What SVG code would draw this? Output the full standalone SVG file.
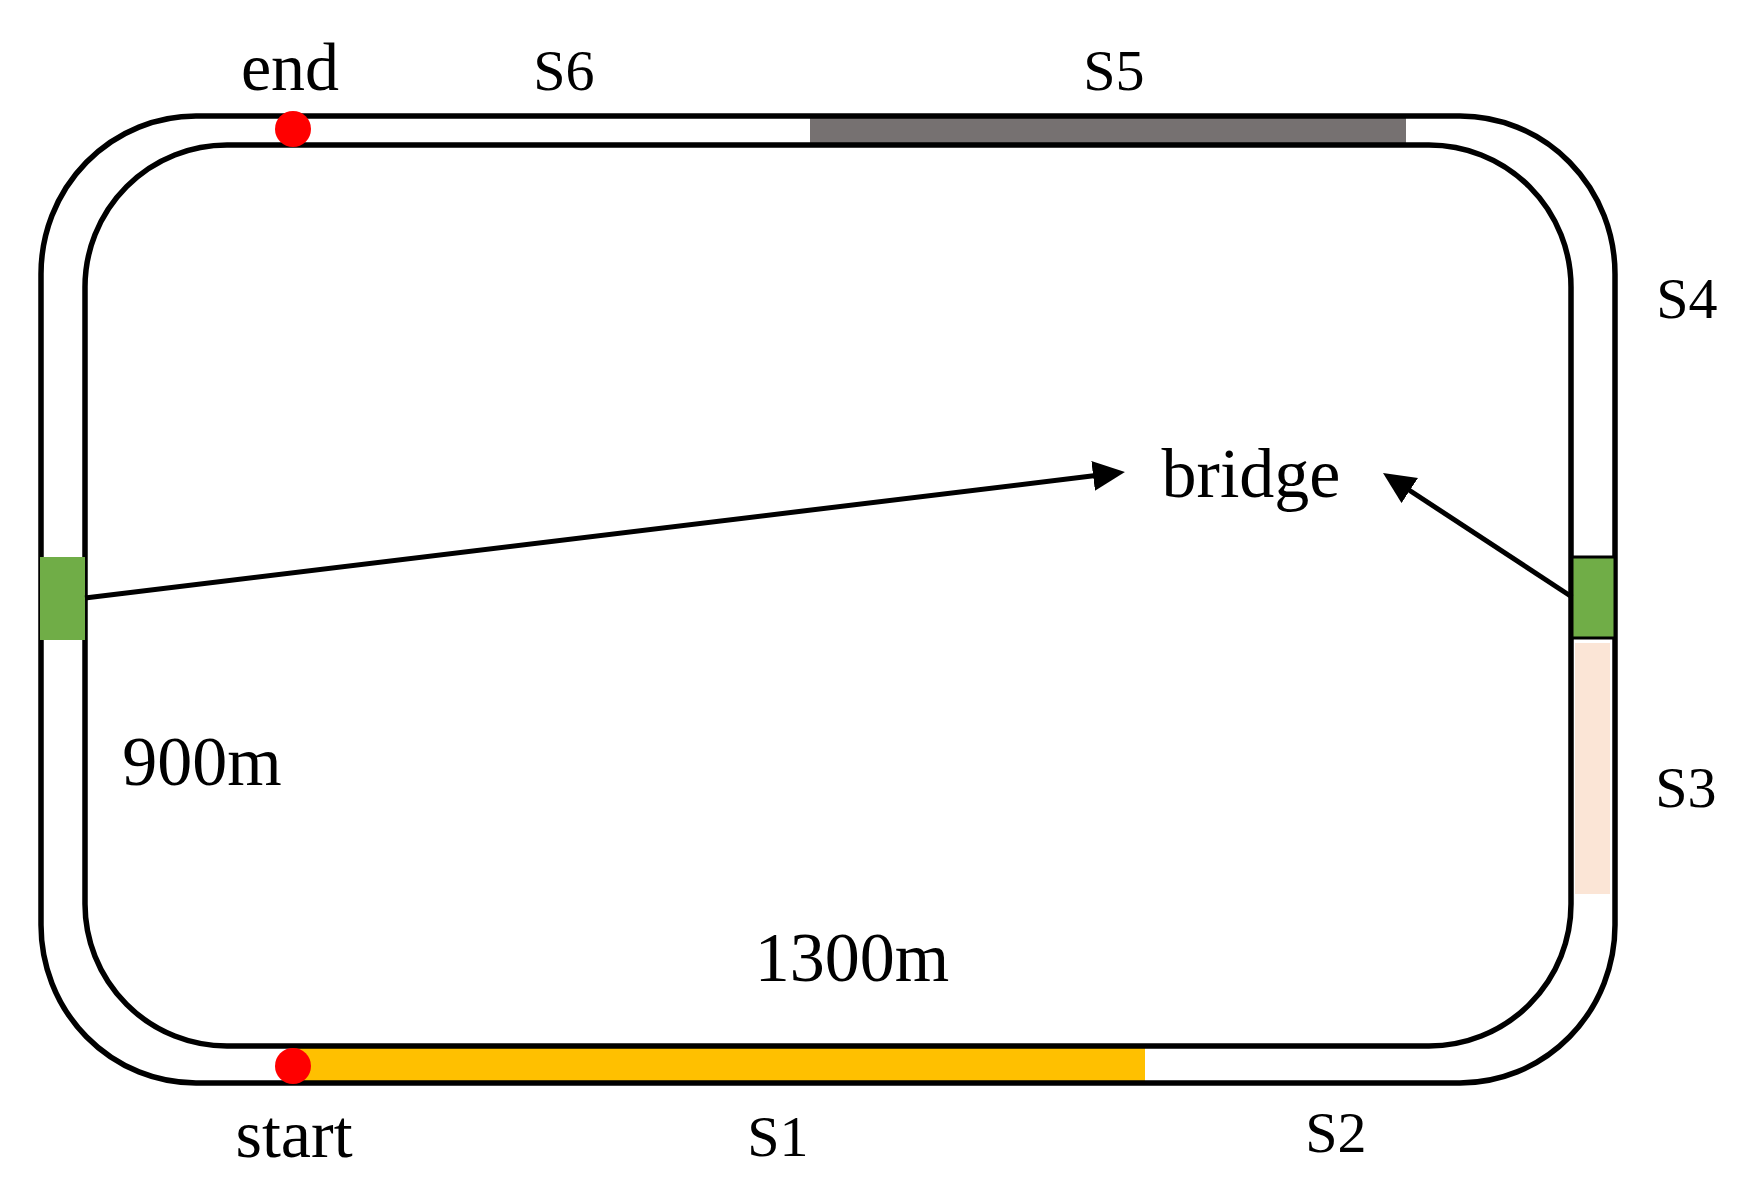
<svg xmlns="http://www.w3.org/2000/svg" width="1763" height="1196" viewBox="0 0 1763 1196">
<style>
.track{fill:none;stroke:#000;stroke-width:5.5}
.lbl{font-family:"Liberation Serif","Times New Roman",serif;fill:#000;text-anchor:middle}
.s{font-size:58px}
.w{font-size:68px}
.conn{fill:none;stroke:#000;stroke-width:5}
.dot{fill:#FF0000}
</style>
<defs>
<marker id="arr" markerUnits="userSpaceOnUse" markerWidth="34" markerHeight="32" refX="21" refY="15" orient="auto">
<path d="M0,0 L32,15 L0,30 z" fill="#000"/>
</marker>
</defs>
<rect width="1763" height="1196" fill="#fff"/>
<g id="segments">
<rect id="s5-bar" x="810" y="118" width="596" height="25" fill="#767171"/>
<rect id="s1-bar" x="293" y="1048" width="852" height="33" fill="#FFC000"/>
<rect id="s3-bar" x="1575" y="643" width="35" height="251" fill="#FBE5D6"/>
</g>
<g id="track">
<rect class="track" x="41" y="116" width="1574" height="967" rx="155" ry="158"/>
<rect class="track" x="85" y="145" width="1486" height="901" rx="142" ry="142"/>
</g>
<g id="bridge-left"><rect x="40" y="557" width="45" height="83" fill="#70AD47"/></g>
<g id="bridge-right"><rect x="1572" y="557" width="43" height="81" fill="#70AD47" stroke="#000" stroke-width="3"/></g>
<g id="end-point"><circle class="dot" cx="293" cy="129" r="18"/></g>
<g id="start-point"><circle class="dot" cx="293" cy="1066" r="18"/></g>
<g id="connectors">
<line class="conn" x1="85" y1="598" x2="1114" y2="473.3" marker-end="url(#arr)"/>
<line class="conn" x1="1572" y1="597" x2="1392.2" y2="479" marker-end="url(#arr)"/>
</g>
<g id="labels">
<text class="lbl w" x="290" y="90">end</text>
<text class="lbl s" x="564" y="90">S6</text>
<text class="lbl s" x="1114" y="90">S5</text>
<text class="lbl s" x="1687" y="318">S4</text>
<text class="lbl w" x="1251" y="497" style="font-size:70px">bridge</text>
<text class="lbl w" x="202" y="785" style="font-size:70px">900m</text>
<text class="lbl s" x="1686" y="807">S3</text>
<text class="lbl w" x="852" y="981" style="font-size:70px">1300m</text>
<text class="lbl w" x="294" y="1157">start</text>
<text class="lbl s" x="778" y="1156">S1</text>
<text class="lbl s" x="1336" y="1152">S2</text>
</g>
</svg>
